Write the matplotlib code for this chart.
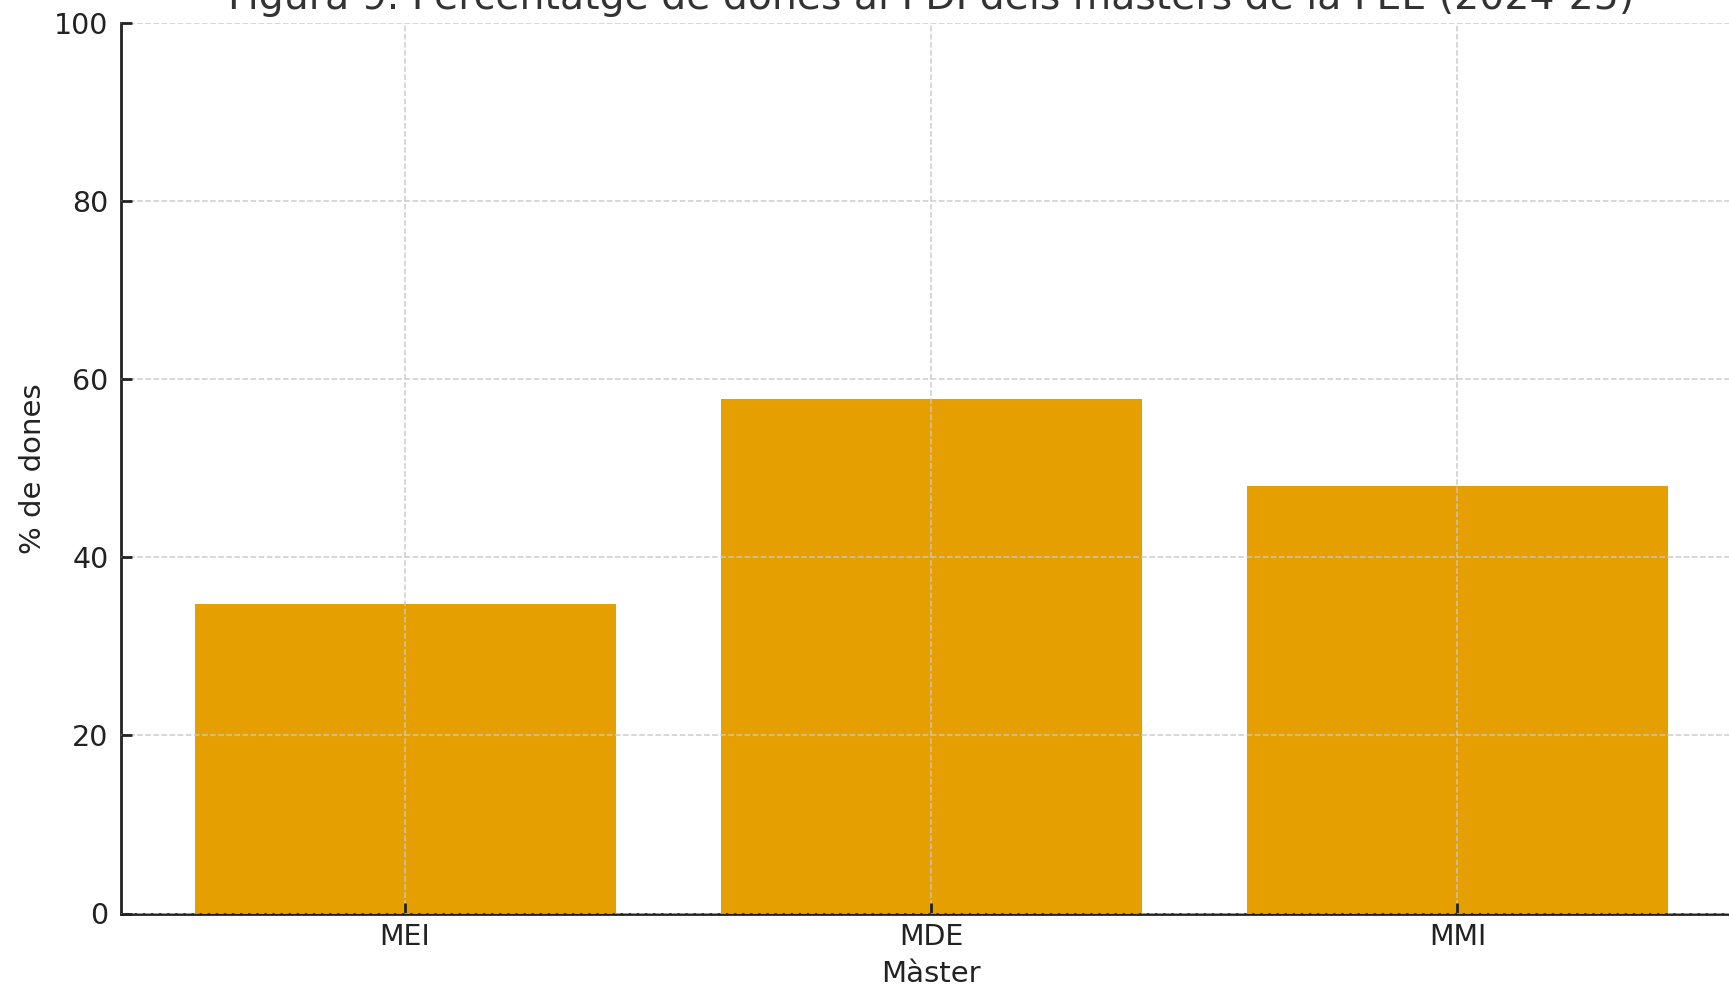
import numpy as np
import matplotlib.pyplot as plt

masters = ['MEI', 'MDE', 'MMI']
pct_dones = [34.8, 57.8, 48.0]
yticks = [0, 20, 40, 60, 80, 100]

title = 'Figura 9. Percentatge de dones al PDI dels màsters de la FEE (2024-25)'

plt.rcParams['font.family'] = 'DejaVu Sans'
plt.rcParams['text.color'] = '#222222'
plt.rcParams['axes.labelcolor'] = '#222222'
plt.rcParams['xtick.color'] = '#222222'
plt.rcParams['ytick.color'] = '#222222'

fig = plt.figure(figsize=(17.29, 9.89), dpi=100)
ax = fig.add_axes([121/1729, 1 - 913.5/989, (1741.5 - 121)/1729, (913.5 - 23)/989])

x = np.arange(len(masters))
ax.bar(x, pct_dones, width=0.8, color='#E69F00')

ax.set_ylim(0, 100)
ax.set_yticks(yticks)
ax.set_xticks(x)
ax.set_xticklabels(masters)

ax.set_axisbelow(False)
ax.grid(True, linestyle='--', color='#c8c8c8', linewidth=1.1, alpha=0.9)

ax.spines['right'].set_visible(False)
ax.spines['top'].set_visible(False)
ax.spines['left'].set_linewidth(2)
ax.spines['bottom'].set_linewidth(2)
ax.spines['left'].set_color('#222222')
ax.spines['bottom'].set_color('#222222')

ax.tick_params(axis='y', direction='in', length=8, width=2, labelsize=20.5, pad=9)
ax.tick_params(axis='x', direction='in', length=8, width=2, labelsize=20.5, pad=7)

ax.set_xlabel('Màster', fontsize=21, labelpad=6)
ax.set_ylabel('% de dones', fontsize=21, labelpad=5)
ax.set_title(title, fontsize=28.4, pad=10, color='#333333')

fig.savefig('out.png', dpi=100)
